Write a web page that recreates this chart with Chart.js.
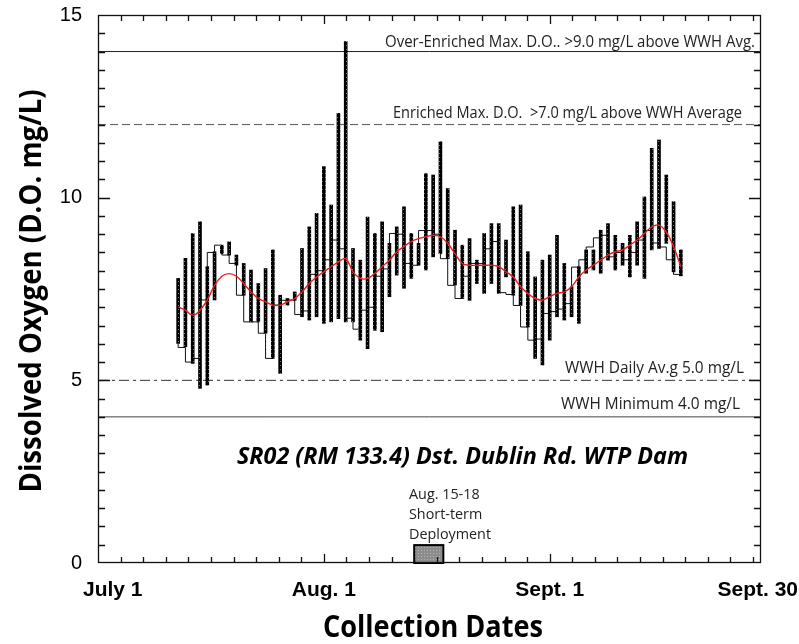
<!DOCTYPE html>
<html>
<head>
<meta charset="utf-8">
<title>SR02 Dissolved Oxygen</title>
<script src="https://cdn.jsdelivr.net/npm/chart.js@4.4.1/dist/chart.umd.min.js"></script>
<style>
  html, body { margin: 0; padding: 0; background: #fff; }
  #wrap { width: 799px; height: 644px; }
</style>
</head>
<body>
<div id="wrap"><canvas id="doChart" width="799" height="644"></canvas></div>
<script>
// x values are days counted from July 1 (31 = Aug. 1, 62 = Sept. 1, 91 = Sept. 30)
const days = [11, 12, 13, 14, 15, 16, 17, 18, 19, 20, 21, 22, 23, 24, 25, 26, 27, 28, 29, 30,
              31, 32, 33, 34, 35, 36, 37, 38, 39, 40, 41, 42, 43, 44, 45, 46, 47, 48, 49, 50,
              51, 52, 53, 54, 55, 56, 57, 58, 59, 60, 61, 62, 63, 64, 65, 66, 67, 68, 69, 70,
              71, 72, 73, 74, 75, 76, 77, 78, 79, 80];

// daily D.O. range (mg/L)
const dailyMin = [6.01, 5.92, 5.46, 4.78, 4.87, 7.20, 8.47, 8.43, 8.15, 7.33,
                  6.60, 6.60, 6.29, 5.60, 5.19, 7.06, 7.19, 6.74, 6.65, 6.74,
                  6.56, 6.60, 6.69, 6.60, 6.60, 6.10, 5.87, 6.37, 6.33, 7.29,
                  7.88, 7.52, 7.79, 8.15, 8.02, 8.38, 8.47, 8.33, 7.61, 7.24,
                  7.19, 7.65, 7.38, 7.65, 7.38, 7.83, 7.33, 7.05, 6.46, 5.60,
                  5.42, 6.10, 6.74, 6.65, 6.74, 6.56, 7.93, 8.02, 7.93, 8.29,
                  8.02, 8.15, 7.83, 8.15, 7.79, 8.57, 8.61, 8.75, 7.97, 7.86];
const dailyMax = [7.79, 8.34, 9.02, 9.34, 8.11, 8.52, 8.70, 8.79, 8.43, 8.20,
                  8.02, 7.65, 8.06, 8.57, 7.33, 7.24, 7.42, 8.61, 9.20, 9.57,
                  10.85, 9.80, 12.31, 14.27, 8.61, 8.29, 9.47, 9.02, 9.34, 8.75,
                  9.20, 9.75, 9.02, 8.75, 10.66, 10.62, 11.53, 10.25, 9.11, 8.70,
                  8.88, 8.29, 9.02, 9.29, 9.29, 8.84, 9.75, 9.80, 8.52, 7.83,
                  8.29, 8.43, 8.97, 8.20, 7.56, 8.11, 8.57, 8.57, 9.11, 9.29,
                  8.97, 8.75, 8.97, 9.34, 10.02, 11.35, 11.58, 10.62, 9.89, 8.57];
// reading at the end of each day, carried over to the next day
const dailyClose = [6.00, 5.90, 5.50, 5.60, 7.20, 8.50, 8.70, 8.43, 8.20, 7.33,
                    6.60, 6.60, 6.29, 5.60, 7.06, 7.19, 7.20, 6.80, 6.90, 7.90,
                    8.00, 8.30, 8.84, 8.60, 6.70, 6.40, 6.92, 7.00, 7.85, 8.05,
                    9.02, 9.00, 8.20, 8.15, 9.10, 9.10, 9.00, 8.33, 7.60, 7.24,
                    7.85, 8.20, 8.20, 8.60, 8.80, 7.40, 7.35, 7.05, 6.46, 6.10,
                    6.13, 6.83, 6.88, 6.95, 7.10, 8.10, 8.30, 8.65, 8.90, 8.97,
                    8.38, 8.50, 8.30, 8.50, 8.84, 9.10, 8.76, 8.65, 8.30, 7.90];
// smoothed running average
const runningAvg = [7.01, 6.92, 6.78, 6.92, 7.20, 7.60, 7.85, 7.92, 7.85, 7.65,
                    7.42, 7.24, 7.15, 7.06, 7.06, 7.15, 7.24, 7.42, 7.65, 7.83,
                    7.97, 8.11, 8.24, 8.33, 7.97, 7.79, 7.79, 7.93, 8.11, 8.29,
                    8.52, 8.66, 8.80, 8.88, 8.93, 8.97, 8.93, 8.75, 8.47, 8.20,
                    8.15, 8.15, 8.15, 8.15, 8.11, 7.97, 7.83, 7.56, 7.38, 7.24,
                    7.20, 7.29, 7.38, 7.42, 7.56, 7.83, 8.02, 8.15, 8.29, 8.43,
                    8.52, 8.57, 8.70, 8.84, 9.02, 9.20, 9.25, 9.06, 8.66, 8.11];

const dateTicks = [0, 31, 62, 91];
const dateLabels = ['July 1', 'Aug. 1', 'Sept. 1', 'Sept. 30'];
const doTicks = [0, 5, 10, 15];

// criteria lines (mg/L)
const overEnriched = 14;
const enriched = 12;
const wwhDailyAvg = 5;
const wwhMinimum = 4;

// short-term deployment marker
const deploymentSpan = [43.4, 47.4];
const deploymentTop = 0.49;

const X_MIN = 0, X_MAX = 91, Y_MIN = 0, Y_MAX = 15;

const canvas = document.getElementById('doChart');
const mainCtx = canvas.getContext('2d');

// small repeating textures for the range bars and the deployment box
function speckle(dark, light, h) {
    const c = document.createElement('canvas');
    c.width = 3; c.height = h;
    const g = c.getContext('2d');
    g.fillStyle = dark;
    g.fillRect(0, 0, 3, h);
    g.fillStyle = light;
    g.fillRect(1, 1, 1, 1);
    return mainCtx.createPattern(c, 'repeat');
}
const barFill = speckle('#000', '#777', 4);
const boxFill = speckle('#8c8c8c', '#b4b4b4', 3);

function hline(value) {
    return [{ x: X_MIN, y: value }, { x: X_MAX, y: value }];
}

// draw text squeezed or stretched to a given width
function fitText(ctx, text, x, y, width, font, align) {
    ctx.save();
    ctx.font = font;
    ctx.textAlign = align;
    ctx.textBaseline = 'alphabetic';
    const w = ctx.measureText(text).width;
    ctx.translate(x, y);
    ctx.scale(width / w, 1);
    ctx.fillText(text, 0, 0);
    ctx.restore();
}

// frame with inward ticks on all four sides
function drawFrame(ctx, a, x, y) {
    ctx.save();
    ctx.setLineDash([]);
    ctx.lineWidth = 1.3;
    ctx.strokeStyle = '#111';
    ctx.strokeRect(a.left + 0.5, a.top + 0.5, a.right - a.left - 1, a.bottom - a.top - 1);

    ctx.beginPath();
    for (let i = 1; i < 30; i++) {
        const v = i / 2;
        const py = Math.round(y.getPixelForValue(v)) + 0.5;
        const len = i % 10 === 0 ? 12 : 7;
        ctx.moveTo(a.left, py);
        ctx.lineTo(a.left + len, py);
        ctx.moveTo(a.right, py);
        ctx.lineTo(a.right - len, py);
    }
    for (let k = 1; k < 30; k++) {
        const px = Math.round(x.getPixelForValue(k * 3.1)) + 0.5;
        const len = k % 10 === 0 ? 9 : 6;
        ctx.moveTo(px, a.bottom);
        ctx.lineTo(px, a.bottom - len);
        ctx.moveTo(px, a.top);
        ctx.lineTo(px, a.top + len);
    }
    ctx.stroke();
    ctx.restore();
}

const axesAndNotes = {
    id: 'axesAndNotes',
    afterDraw(chart) {
        const { ctx, chartArea: a, scales: { x, y } } = chart;
        ctx.save();

        // deployment box on the date axis
        const bx0 = x.getPixelForValue(deploymentSpan[0]);
        const bx1 = x.getPixelForValue(deploymentSpan[1]);
        const by = y.getPixelForValue(deploymentTop);
        ctx.fillStyle = boxFill;
        ctx.fillRect(bx0, by, bx1 - bx0, a.bottom - by);
        ctx.lineWidth = 2;
        ctx.strokeStyle = '#000';
        ctx.strokeRect(bx0, by, bx1 - bx0, a.bottom - by);

        drawFrame(ctx, a, x, y);

        // y tick labels
        ctx.fillStyle = '#000';
        ctx.font = '20px "Liberation Sans", Arial, sans-serif';
        ctx.textAlign = 'right';
        ctx.textBaseline = 'middle';
        doTicks.forEach(v => ctx.fillText(String(v), a.left - 16, y.getPixelForValue(v)));

        // date labels, kept inside the canvas at both ends
        ctx.font = 'bold 21px "Liberation Sans", Arial, sans-serif';
        ctx.textAlign = 'center';
        ctx.textBaseline = 'alphabetic';
        dateTicks.forEach((d, i) => {
            const w = ctx.measureText(dateLabels[i]).width;
            let cx = x.getPixelForValue(d);
            cx = Math.max(cx, a.left - 15 + w / 2);
            cx = Math.min(cx, chart.width - 1 - w / 2);
            ctx.fillText(dateLabels[i], cx, a.bottom + 33);
        });

        // criteria line captions
        ctx.fillStyle = '#222';
        const note = '15.4px "Open Sans", sans-serif';
        fitText(ctx, 'Over-Enriched Max. D.O.. >9.0 mg/L above WWH Avg.', 755, y.getPixelForValue(overEnriched) - 4.5, 370, note, 'right');
        fitText(ctx, 'Enriched Max. D.O.  >7.0 mg/L above WWH Average', 742, y.getPixelForValue(enriched) - 6.3, 349, note, 'right');
        fitText(ctx, 'WWH Daily Av.g 5.0 mg/L', 744, y.getPixelForValue(wwhDailyAvg) - 7.6, 179, note, 'right');
        fitText(ctx, 'WWH Minimum 4.0 mg/L', 740, y.getPixelForValue(wwhMinimum) - 8, 179, note, 'right');

        // deployment caption
        ctx.font = '14.8px "Open Sans", sans-serif';
        const sx = 82 / ctx.measureText('Deployment').width;
        ['Aug. 15-18', 'Short-term', 'Deployment'].forEach((t, i) => {
            ctx.save();
            ctx.translate(409, 498.5 + i * 20);
            ctx.scale(sx, 1);
            ctx.textAlign = 'left';
            ctx.fillText(t, 0, 0);
            ctx.restore();
        });

        // station title
        ctx.fillStyle = '#000';
        fitText(ctx, 'SR02 (RM 133.4) Dst. Dublin Rd. WTP Dam', 462.5, 463.5, 451,
                'italic bold 22.4px "Open Sans", sans-serif', 'center');

        // axis titles
        const axisFont = 'bold 30px "Open Sans", sans-serif';
        fitText(ctx, 'Collection Dates', 433, 637, 220, axisFont, 'center');
        ctx.save();
        ctx.translate(41, 291);
        ctx.rotate(-Math.PI / 2);
        fitText(ctx, 'Dissolved Oxygen (D.O. mg/L)', 0, 0, 403, axisFont, 'center');
        ctx.restore();

        ctx.restore();
    }
};

new Chart(canvas, {
    type: 'line',
    data: {
        datasets: [
            {
                type: 'line',
                data: runningAvg.map((v, i) => ({ x: days[i], y: v })),
                borderColor: '#ee1c1c',
                borderWidth: 1.4,
                tension: 0.4,
                pointRadius: 0,
                order: 1
            },
            {
                type: 'bar',
                data: days.map((d, i) => ({ x: d, y: [dailyMin[i], dailyMax[i]] })),
                backgroundColor: barFill,
                borderWidth: 0,
                barThickness: 3,
                grouped: false,
                order: 2
            },
            {
                type: 'line',
                data: dailyClose.map((v, i) => ({ x: days[i], y: v })),
                stepped: 'after',
                borderColor: '#111',
                borderWidth: 1,
                pointRadius: 0,
                order: 3
            },
            {
                type: 'line',
                data: hline(overEnriched),
                borderColor: '#222',
                borderWidth: 1,
                pointRadius: 0,
                order: 4
            },
            {
                type: 'line',
                data: hline(enriched),
                borderColor: '#555',
                borderWidth: 1,
                borderDash: [8, 4],
                pointRadius: 0,
                order: 4
            },
            {
                type: 'line',
                data: hline(wwhDailyAvg),
                borderColor: '#333',
                borderWidth: 1,
                borderDash: [10, 4, 3, 4],
                pointRadius: 0,
                order: 4
            },
            {
                type: 'line',
                data: hline(wwhMinimum),
                borderColor: '#444',
                borderWidth: 1,
                pointRadius: 0,
                order: 4
            }
        ]
    },
    options: {
        responsive: false,
        animation: false,
        devicePixelRatio: 1,
        layout: { padding: { left: 98, right: 38, top: 15, bottom: 81 } },
        plugins: {
            legend: { display: false },
            tooltip: { enabled: false }
        },
        scales: {
            x: { type: 'linear', min: X_MIN, max: X_MAX, offset: false, display: false },
            y: { type: 'linear', min: Y_MIN, max: Y_MAX, display: false }
        }
    },
    plugins: [axesAndNotes]
});
</script>
</body>
</html>
